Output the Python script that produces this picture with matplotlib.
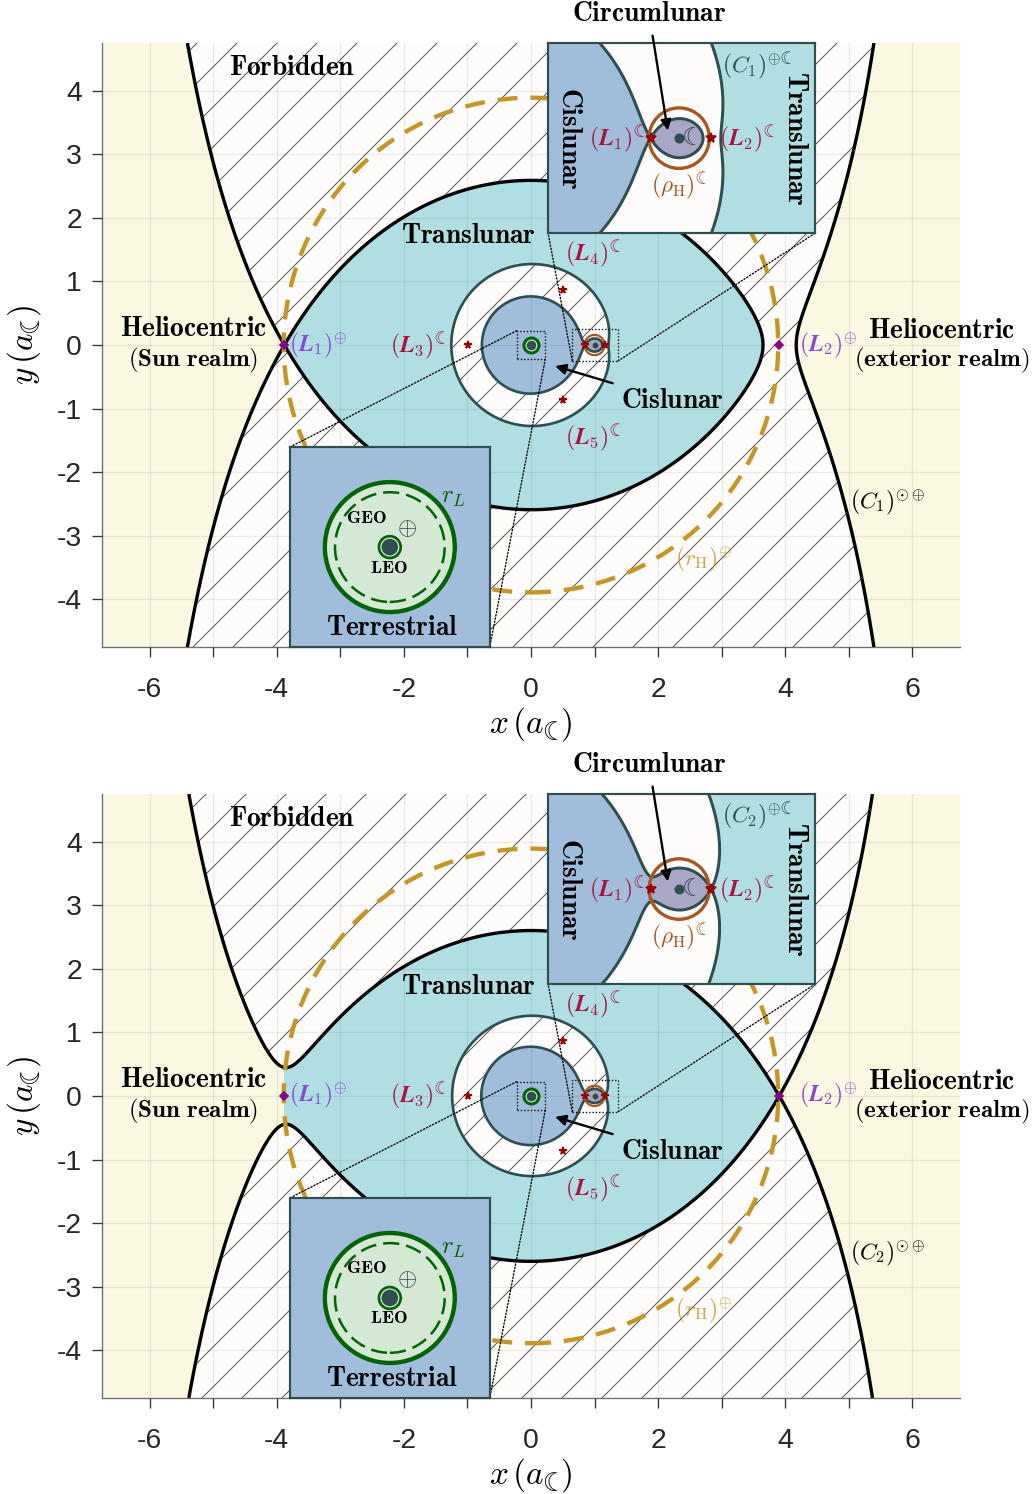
import numpy as np
import matplotlib
matplotlib.use("Agg")
import matplotlib.pyplot as plt
from matplotlib.patches import Circle, Rectangle, ConnectionPatch

plt.rcParams.update({
    "font.family": ["Liberation Sans", "DejaVu Sans"],
    "mathtext.fontset": "cm",
    "axes.unicode_minus": False,
    "hatch.color": "#555555",
    "hatch.linewidth": 0.6,
})

# units: Earth-Moon distance; Earth at the origin, Moon at (1, 0), Sun far left
A_SUN = 389.17        # Sun-Earth distance
MU_SE = 3.0035e-6     # Sun-Earth mass parameter
MU_EM = 0.01215       # Earth-Moon mass parameter
R_HILL = 3.89         # Earth Hill radius (r_H)
RHO_HILL = 0.159      # Moon Hill radius (rho_H)
R_EARTH = 0.0166
R_LEO = 0.0218
R_GEO = 0.1097
R_LAPLACE = 0.13

PANELS = ["1", "2"]            # energy C_1 (L1 level) / C_2 (L2 level)
XLIM, YLIM = (-6.75, 6.75), (-4.75, 4.75)
XTICKS = list(range(-6, 7))
YTICKS = list(range(-4, 5))
XTICKLABELS = [str(v) if v % 2 == 0 else "" for v in XTICKS]

EARTH_BOX = (-0.225, -0.225, 0.45, 0.45)
MOON_BOX = (0.65, -0.25, 0.72, 0.5)
TERR_LIM = (-0.2, 0.2)
CIRC_XLIM, CIRC_YLIM = (0.31, 1.715), (-0.5, 0.5)

YELLOW = "#FAF8E1"
CYAN = "#B0DFE3"
BLUE = "#A0BEDC"
LUNAR = "#A8A8C6"
FORB = "#FDFCFB"
SLATE = "#2F4F4F"
GREEN = "#006400"
LGREEN = "#D5E8D4"
GOLD = "#C8961E"
BROWN = "#A9561E"
CRIMSON = "#B0103A"
STAR = "#9B0000"
PURPLE = "#8B46D4"
DIAMOND = "#8B008B"

MOON = "\u263e"
BIG = 16.5     # bold region names
SUB = 15       # second line of the realm names
LAB = 14       # point / curve labels


def jacobi_se(x, y):
    X = 1 - MU_SE + x / A_SUN
    Y = y / A_SUN
    r1 = np.hypot(X + MU_SE, Y)
    r2 = np.maximum(np.hypot(X - 1 + MU_SE, Y), 1e-9)
    return X * X + Y * Y + 2 * (1 - MU_SE) / r1 + 2 * MU_SE / r2


def jacobi_em(x, y):
    X = x - MU_EM
    r1 = np.maximum(np.hypot(x, y), 1e-6)
    r2 = np.maximum(np.hypot(x - 1.0, y), 1e-6)
    return X * X + y * y + 2 * (1 - MU_EM) / r1 + 2 * MU_EM / r2


def axis_min(f, lo, hi):
    xs = np.linspace(lo, hi, 40001)
    v = f(xs, 0 * xs)
    i = v.argmin()
    return xs[i], v[i]


SE_L1, SE_C1 = axis_min(jacobi_se, -4.6, -3.2)
SE_L2, SE_C2 = axis_min(jacobi_se, 3.2, 4.6)
EM_L1, EM_C1 = axis_min(jacobi_em, 0.7, 0.95)
EM_L2, EM_C2 = axis_min(jacobi_em, 1.05, 1.35)
EM_L3, _ = axis_min(jacobi_em, -1.2, -0.8)
EM_L45 = (0.5, np.sqrt(3) / 2)


def fill_mask(ax, X, Y, Z, mask, C, color, z):
    lo = min(Z.min(), C) - 1
    ax.contourf(X, Y, np.where(mask, Z, lo), levels=[C, Z.max() + 1],
                colors=[color], zorder=z)


def draw_em(ax, C, xs, ys, lw, with_trans, hatch):
    X, Y = np.meshgrid(xs, ys)
    Z = jacobi_em(X, Y)
    r1 = np.hypot(X, Y)
    r2 = np.hypot(X - 1, Y)
    ok = Z >= C
    cis = ok & (r1 < 1.0) & (X < EM_L1)
    lunar = ok & (r2 < 0.25) & (X >= EM_L1) & (X <= EM_L2)
    lo = min(Z.min(), C) - 1
    ax.contourf(X, Y, Z, levels=[lo, C], colors=[FORB],
                hatches=[hatch], zorder=2)
    fill_mask(ax, X, Y, Z, cis, C, BLUE, 2)
    fill_mask(ax, X, Y, Z, lunar, C, LUNAR, 2)
    if with_trans:
        fill_mask(ax, X, Y, Z, ok & ~cis & ~lunar, C, CYAN, 2)
    ax.contour(X, Y, Z, levels=[C], colors=SLATE, linewidths=lw, zorder=3)


def panel(ax, k):
    tag = PANELS[k]
    c_se = [SE_C1, SE_C2][k]
    c_em = [EM_C1, EM_C2][k]

    ax.set_facecolor(YELLOW)
    xs = np.linspace(XLIM[0], XLIM[1], 1350)
    ys = np.linspace(YLIM[0], YLIM[1], 950)
    X, Y = np.meshgrid(xs, ys)
    Z = jacobi_se(X, Y)
    fill_mask(ax, X, Y, Z, (X > SE_L1) & (X < SE_L2), c_se, CYAN, 1)
    lo = min(Z.min(), c_se) - 1
    ax.contourf(X, Y, Z, levels=[lo, c_se], colors=[FORB], hatches=["/"],
                zorder=1)
    ax.contour(X, Y, Z, levels=[c_se], colors="k", linewidths=2.0, zorder=3)

    # Earth-Moon zero-velocity curves
    g = np.linspace(-1.5, 1.5, 900)
    draw_em(ax, c_em, g, g, 1.6, False, "/")

    ax.add_patch(Circle((1, 0), RHO_HILL, fill=False, ec=BROWN, lw=1.3, zorder=4))
    ax.add_patch(Circle((0, 0), R_HILL, fill=False, ec=GOLD, lw=2.6,
                        ls=(0, (4.6, 3.0)), zorder=4))
    ax.plot([0], [0], "o", ms=9, mfc=LGREEN, mec=GREEN, mew=1.8, zorder=5)
    ax.plot([0], [0], "o", ms=4.8, color=SLATE, zorder=6)
    ax.plot([1], [0], "o", ms=2.5, color=SLATE, zorder=6)
    ax.plot([EM_L1, EM_L2, EM_L3, EM_L45[0], EM_L45[0]],
            [0, 0, 0, EM_L45[1], -EM_L45[1]], "*", ms=4.5, color=STAR, zorder=6)
    ax.plot([SE_L1, SE_L2], [0, 0], "D", ms=3.8, color=DIAMOND, zorder=6)

    for box in (EARTH_BOX, MOON_BOX):
        ax.add_patch(Rectangle(box[:2], box[2], box[3], fill=False, ec="k",
                               lw=0.8, ls=(0, (1, 1.5)), zorder=5))

    bf = dict(fontsize=BIG, ha="center", va="center", zorder=7)
    sf = dict(fontsize=SUB, ha="center", va="center", zorder=7)
    ax.text(-3.75, 4.35, r"$\mathbf{Forbidden}$", **bf)
    ax.text(-0.99, 1.72, r"$\mathbf{Translunar}$", **bf)
    ax.text(-5.31, 0.25, r"$\mathbf{Heliocentric}$", **bf)
    ax.text(-5.31, -0.24, r"$\mathbf{(Sun\ realm)}$", **sf)
    ax.text(6.46, 0.22, r"$\mathbf{Heliocentric}$", **bf)
    ax.text(6.46, -0.25, r"$\mathbf{(exterior\ realm)}$", **sf)

    lf = dict(fontsize=LAB, va="center", zorder=7)
    ax.text(-3.8, 0.0, r"$(\mathbfit{L}_1)^{\oplus}$", color=PURPLE, ha="left", **lf)
    ax.text(4.22, 0.0, r"$(\mathbfit{L}_2)^{\oplus}$", color=PURPLE, ha="left", **lf)
    ax.text(-1.33, 0.0, r"$(\mathbfit{L}_3)^{%s}$" % MOON, color=CRIMSON, ha="right", **lf)
    ax.text(0.97, 1.44, r"$(\mathbfit{L}_4)^{%s}$" % MOON, color=CRIMSON, ha="center", **lf)
    ax.text(0.97, -1.45, r"$(\mathbfit{L}_5)^{%s}$" % MOON, color=CRIMSON, ha="center", **lf)
    ax.text(5.02, -2.47, r"$(C_%s)^{\odot\oplus}$" % tag, color="k", ha="left", **lf)
    ax.text(2.72, -3.37, r"$(r_{\rm H})^{\oplus}$", color=GOLD, alpha=0.85,
            ha="center", **lf)
    ax.annotate(r"$\mathbf{Cislunar}$", xy=(0.38, -0.33), xytext=(2.22, -0.88),
                fontsize=BIG, ha="center", va="center", zorder=7,
                arrowprops=dict(arrowstyle="-|>", color="k", lw=1.4,
                                mutation_scale=13, shrinkA=3, shrinkB=0))

    ax.set_xlim(*XLIM)
    ax.set_ylim(*YLIM)
    ax.set_xticks(XTICKS)
    ax.set_xticklabels(XTICKLABELS)
    ax.set_yticks(YTICKS)
    ax.grid(True, color="k", alpha=0.07, lw=0.8)
    ax.set_axisbelow(False)
    for s in ("top", "right"):
        ax.spines[s].set_visible(False)
    for s in ("left", "bottom"):
        ax.spines[s].set_color("#6e6e6e")
    ax.tick_params(direction="out", length=6, width=0.8, labelsize=17, pad=6,
                   color="#333333", labelcolor="#262626")
    ax.tick_params(axis="x", pad=12)
    ax.set_xlabel(r"$x\,(a_{%s})$" % MOON, fontsize=20, labelpad=1)
    ax.set_ylabel(r"$y\,(a_{%s})$" % MOON, fontsize=20, labelpad=8)

    # terrestrial inset
    at = ax.inset_axes([0.219, 0.0, 0.233, 0.331], zorder=8)
    at.set_facecolor(BLUE)
    at.set_xlim(*TERR_LIM)
    at.set_ylim(*TERR_LIM)
    at.set_xticks([])
    at.set_yticks([])
    for s in at.spines.values():
        s.set_color(SLATE)
        s.set_linewidth(1.3)
    at.add_patch(Circle((0, 0), R_LAPLACE, fc=LGREEN, ec=GREEN, lw=2.6))
    at.add_patch(Circle((0, 0), R_GEO, fill=False, ec=GREEN, lw=1.5,
                        ls=(0, (6.5, 2.8))))
    at.add_patch(Circle((0, 0), R_LEO, fc=LGREEN, ec=GREEN, lw=1.6))
    at.add_patch(Circle((0, 0), R_EARTH, fc=SLATE, ec="none"))
    tf = dict(transform=at.transAxes, ha="center", va="center")
    at.text(0.385, 0.645, r"$\mathbf{GEO}$", fontsize=11, **tf)
    at.text(0.495, 0.395, r"$\mathbf{LEO}$", fontsize=11, **tf)
    at.text(0.585, 0.595, r"$\oplus$", fontsize=15, color=SLATE, **tf)
    at.text(0.815, 0.75, r"$r_L$", fontsize=15, color=GREEN, **tf)
    at.text(0.51, 0.095, r"$\mathbf{Terrestrial}$", fontsize=BIG, **tf)

    # circumlunar inset
    ac = ax.inset_axes([0.520, 0.685, 0.311, 0.315], zorder=8)
    ac.set_facecolor(FORB)
    cx = np.linspace(CIRC_XLIM[0], CIRC_XLIM[1], 900)
    cy = np.linspace(CIRC_YLIM[0], CIRC_YLIM[1], 640)
    draw_em(ac, c_em, cx, cy, 1.8, True, None)
    ac.add_patch(Circle((1, 0), RHO_HILL, fill=False, ec=BROWN, lw=2.0, zorder=4))
    ac.plot([1], [0], "o", ms=5, color=SLATE, zorder=6)
    ac.plot([EM_L1, EM_L2], [0, 0], "*", ms=6.5, color=STAR, zorder=6)
    ac.text(1.075, 0.0, MOON, fontsize=15, color=SLATE, ha="center", va="center",
            family=["DejaVu Sans"], zorder=6)
    ac.set_xlim(*CIRC_XLIM)
    ac.set_ylim(*CIRC_YLIM)
    ac.set_xticks([])
    ac.set_yticks([])
    for s in ac.spines.values():
        s.set_color(SLATE)
        s.set_linewidth(1.3)
    ac.text(0.42, 0.0, r"$\mathbf{Cislunar}$", fontsize=BIG, rotation=-90,
            ha="center", va="center", zorder=7)
    ac.text(1.61, 0.0, r"$\mathbf{Translunar}$", fontsize=BIG, rotation=-90,
            ha="center", va="center", zorder=7)
    ac.text(1.41, 0.384, r"$(C_%s)^{\oplus%s}$" % (tag, MOON), fontsize=LAB,
            color=SLATE, ha="center", va="center", zorder=7)
    ac.text(0.82, 0.0, r"$(\mathbfit{L}_1)^{%s}$" % MOON, fontsize=LAB,
            color=CRIMSON, ha="right", va="center", zorder=7)
    ac.text(1.21, 0.0, r"$(\mathbfit{L}_2)^{%s}$" % MOON, fontsize=LAB,
            color=CRIMSON, ha="left", va="center", zorder=7)
    ac.text(1.0, -0.247, r"$(\rho_{\rm H})^{%s}$" % MOON, fontsize=LAB,
            color=BROWN, ha="center", va="center", zorder=7)
    ac.annotate(r"$\mathbf{Circumlunar}$", xy=(0.94, 0.04), xycoords="data",
                xytext=(1.86, 5.2), textcoords=ax.transData, fontsize=BIG,
                ha="center", va="center", annotation_clip=False, zorder=9,
                arrowprops=dict(arrowstyle="-|>", color="k", lw=1.4,
                                mutation_scale=13, shrinkA=3, shrinkB=0))

    # zoom connectors
    cons = [((EARTH_BOX[0], EARTH_BOX[1] + EARTH_BOX[3]), at, (0, 1)),
            ((EARTH_BOX[0] + EARTH_BOX[2], EARTH_BOX[1]), at, (1, 0)),
            ((MOON_BOX[0], MOON_BOX[1]), ac, (0, 0)),
            ((MOON_BOX[0] + MOON_BOX[2], MOON_BOX[1]), ac, (1, 0))]
    for pa, axin, pb in cons:
        cp = ConnectionPatch(xyA=pa, coordsA=ax.transData, xyB=pb,
                             coordsB=axin.transAxes, color="k", lw=0.8,
                             ls=(0, (1, 1.5)), zorder=5)
        ax.add_artist(cp)


fig = plt.figure(figsize=(8.6, 12.45), dpi=120)
ax1 = fig.add_axes([0.0988, 0.5669, 0.8314, 0.4043])
ax2 = fig.add_axes([0.0988, 0.0643, 0.8314, 0.4043])
panel(ax1, 0)
panel(ax2, 1)
fig.savefig("out.png", dpi=120)
